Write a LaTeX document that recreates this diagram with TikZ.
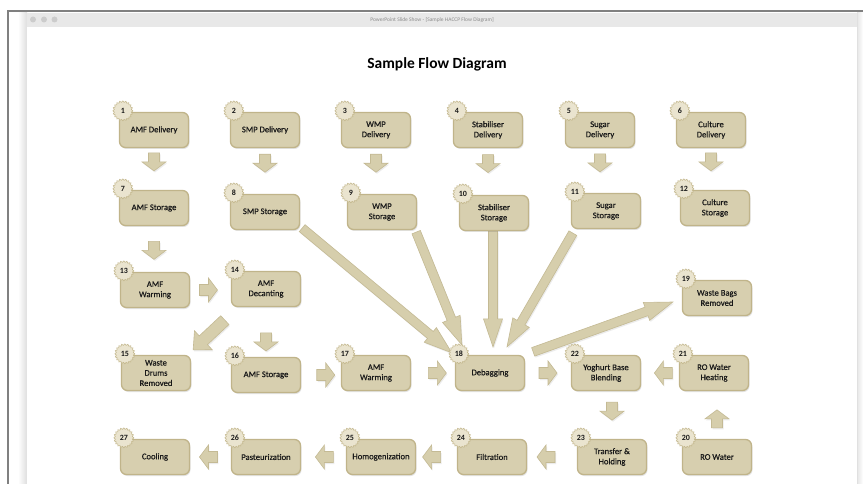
\documentclass[tikz,border=0pt]{standalone}
\usepackage{fontspec}
\setmainfont{Carlito}
\newfontfamily\boxfont{Carlito}[FakeBold=0.5]
\usetikzlibrary{calc,shapes.geometric,shadows}

\definecolor{boxfill}{RGB}{215,207,175}
\definecolor{boxline}{RGB}{192,180,138}
\definecolor{badgefill}{RGB}{234,228,207}
\definecolor{badgeline}{RGB}{196,184,142}
\definecolor{arrfill}{RGB}{214,206,172}
\definecolor{arrline}{RGB}{196,186,148}
\definecolor{barfill}{RGB}{232,232,232}
\definecolor{framegrey}{RGB}{128,128,128}

\pgfdeclarelayer{chrome}
\pgfdeclarelayer{links}
\pgfsetlayers{chrome,links,main}

\tikzset{
  stepbox/.style={draw=boxline, fill=boxfill, line width=1.3pt, rounded corners=6pt,
    minimum width=69pt, minimum height=35pt, inner sep=1pt, align=center,
    font=\boxfont\fontsize{8.6}{10.2}\selectfont, text=black!90,
    drop shadow={opacity=0.22, shadow xshift=1pt, shadow yshift=-1.5pt}},
  badge/.style={star, star points=20, star point ratio=1.16, minimum size=20pt,
    inner sep=0pt, fill=badgefill, draw=badgeline, line width=0.6pt,
    font=\fontsize{8}{9}\selectfont\bfseries, text=black!90},
  blockarr/.style={fill=arrfill, draw=arrline, line width=0.6pt, line join=miter,
    drop shadow={opacity=0.15, shadow xshift=1pt, shadow yshift=-1.5pt}},
}

% a process step: rounded box with its numbered starburst
\newcommand\stepnode[4]{%
  \node[stepbox] (#1) at (#3) {#4};
  \node[badge] (#1n) at ($(#1.north west)+(4,-1)$) {#2};}

% block arrow: tail, tip, shaft half width, head half width, head length
\newcommand\barw[5]{%
  \coordinate (bw-h) at ($(#2)!#5!(#1)$);
  \path[blockarr] ($(#1)!#3!90:(#2)$) -- ($(bw-h)!#3!90:(#2)$)
    -- ($(bw-h)!#4!90:(#2)$) -- (#2) -- ($(bw-h)!#4!-90:(#2)$)
    -- ($(bw-h)!#3!-90:(#2)$) -- ($(#1)!#3!-90:(#2)$) -- cycle;}

% short block arrow placed in the gap between two anchors
\newcommand\gaparw[3][0.5]{%
  \coordinate (ga-m) at ($(#2)!#1!(#3)$);
  \coordinate (ga-t) at ($(ga-m)!9pt!(#2)$);
  \coordinate (ga-h) at ($(ga-m)!9pt!(#3)$);
  \barw{ga-t}{ga-h}{5.5pt}{12pt}{9pt}}

% long block arrow between two coordinates
\newcommand\longarw[2]{\barw{#1}{#2}{4.5pt}{9.5pt}{28pt}}

\begin{document}
\begin{tikzpicture}[x=1pt,y=-1pt]
\useasboundingbox (0,0) rectangle (863,484);

% ---------- window frame ----------
\begin{pgfonlayer}{chrome}
  \fill[white] (0,0) rectangle (863,484);
  \shade[left color=white, right color=black!13] (18,13) rectangle (27,484);
  \shade[left color=black!10, right color=white] (857,13) rectangle (863,484);
  \fill[white] (27,13) rectangle (857,484);
  \draw[black!12, line width=0.6pt] (857,13) -- (857,484);
  \fill[barfill] (27,13) rectangle (857,27);
  \foreach \cx in {33,44,54.5} \fill[black!20] (\cx,19.5) circle (3);
  \node[font=\fontsize{5.5}{6}\selectfont, text=black!45] (wintitle) at (432,20)
    {PowerPoint Slide Show - [Sample HACCP Flow Diagram]};
  \draw[framegrey, line width=1.5pt] (7,11) -- (863,11);
  \draw[framegrey, line width=1.5pt] (7.8,11) -- (7.8,484);
\end{pgfonlayer}

\node[font=\fontsize{15.5}{18}\selectfont\bfseries] (title) at (437,64) {Sample Flow Diagram};

% ---------- steps ----------
\stepnode{b1}{1}{154,130}{AMF Delivery}
\stepnode{b2}{2}{265,130}{SMP Delivery}
\stepnode{b3}{3}{376,130}{WMP\\Delivery}
\stepnode{b4}{4}{488,130}{Stabiliser\\Delivery}
\stepnode{b5}{5}{600,130}{Sugar\\Delivery}
\stepnode{b6}{6}{711,130}{Culture\\Delivery}

\stepnode{b7}{7}{154,208}{AMF Storage}
\stepnode{b8}{8}{265,212}{SMP Storage}
\stepnode{b9}{9}{382,212}{WMP\\Storage}
\stepnode{b10}{10}{494,213}{Stabiliser\\Storage}
\stepnode{b11}{11}{606,211}{Sugar\\Storage}
\stepnode{b12}{12}{715,208}{Culture\\Storage}

\stepnode{b13}{13}{155,290}{AMF\\Warming}
\stepnode{b14}{14}{266,289}{AMF\\Decanting}
\stepnode{b19}{19}{717,298}{Waste Bags\\Removed}

\stepnode{b15}{15}{156,373}{Waste\\Drums\\Removed}
\stepnode{b16}{16}{266,375}{AMF Storage}
\stepnode{b17}{17}{376,373}{AMF\\Warming}
\stepnode{b18}{18}{490,373}{Debagging}
\stepnode{b22}{22}{606,373}{Yoghurt Base\\Blending}
\stepnode{b21}{21}{714,373}{RO Water\\Heating}

\stepnode{b27}{27}{155,457}{Cooling}
\stepnode{b26}{26}{266,457}{Pasteurization}
\stepnode{b25}{25}{381,457}{Homogenization}
\stepnode{b24}{24}{492,457}{Filtration}
\stepnode{b23}{23}{612,457}{Transfer \&\\Holding}
\stepnode{b20}{20}{717,457}{RO Water}

% ---------- arrows ----------
\begin{pgfonlayer}{links}
  % deliveries into storage
  \gaparw[0.33]{b1.south}{b1.south |- b7.north}
  \gaparw[0.33]{b2.south}{b2.south |- b8.north}
  \gaparw[0.33]{b3.south}{b3.south |- b9.north}
  \gaparw[0.33]{b4.south}{b4.south |- b10.north}
  \gaparw[0.33]{b5.south}{b5.south |- b11.north}
  \gaparw[0.33]{b6.south}{b6.south |- b12.north}
  % AMF line
  \gaparw[0.53]{b7.south}{b7.south |- b13.north}
  \gaparw[0.45]{b13.east}{b13.east -| b14.west}
  \gaparw[0.7]{b14.south}{b14.south |- b16.north}
  \gaparw[0.62]{b16.east}{b16.east -| b17.west}
  \gaparw[0.6]{b17.east}{b17.east -| b18.west}
  \gaparw[0.5]{b18.east}{b18.east -| b22.west}
  \gaparw[0.41]{b21.west}{b21.west -| b22.east}
  \gaparw[0.42]{b23.north |- b22.south}{b23.north}
  \gaparw[0.42]{b20.north}{b20.north |- b21.south}
  % bottom line, right to left
  \gaparw[0.62]{b23.west}{b23.west -| b24.east}
  \gaparw[0.62]{b24.west}{b24.west -| b25.east}
  \gaparw[0.48]{b25.west}{b25.west -| b26.east}
  \gaparw[0.55]{b26.west}{b26.west -| b27.east}
  % decanting waste
  \coordinate (d14) at ($(b14.south west)+(-6,13)$);
  \coordinate (d15) at ($(b15.north east)+(2,-5)$);
  \barw{d14}{d15}{6pt}{13pt}{14pt}
  % storage into debagging
  \coordinate (s8) at ($(b8.south east)+(2,-2)$);
  \coordinate (t8) at ($(b18.north west)+(-3,-2)$);
  \coordinate (s9) at ($(b9.south east)+(-1,2)$);
  \coordinate (t9) at ($(b18.north west)+(7,-10)$);
  \coordinate (s10) at ($(b10.south)+(-1,0)$);
  \coordinate (t10) at ($(b10.south |- b18.north)+(-1,-8)$);
  \coordinate (s11) at ($(b11.south west)+(2,4)$);
  \coordinate (t11) at ($(b18.north)+(17,-8)$);
  \longarw{s8}{t8}
  \longarw{s9}{t9}
  \longarw{s10}{t10}
  \longarw{s11}{t11}
  % debagging waste
  \coordinate (s18) at ($(b18.north east)+(8,-3)$);
  \coordinate (t19) at ($(b19.west)+(-9,4)$);
  \longarw{s18}{t19}
\end{pgfonlayer}
\end{tikzpicture}
\end{document}
